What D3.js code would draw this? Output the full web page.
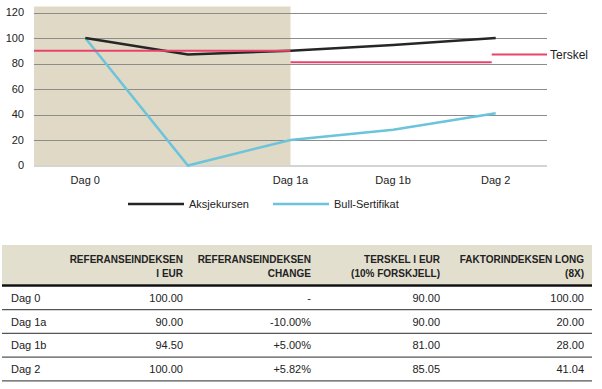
<!DOCTYPE html>
<html>
<head>
<meta charset="utf-8">
<script src="https://cdn.jsdelivr.net/npm/d3@7"></script>
<style>
  body { margin: 0; background: #fff; }
  svg { display: block; font-family: 'Liberation Sans', Arial, sans-serif; }
</style>
</head>
<body>
<div id="chart"></div>
<script>
(function() {
    'use strict';

    // chart data
    const days = ['Dag 0', 'mid', 'Dag 1a', 'Dag 1b', 'Dag 2'];
    const dayLabels = ['Dag 0', '', 'Dag 1a', 'Dag 1b', 'Dag 2'];
    const aksjekursen = [100, 87, 90, 94.5, 100];
    const bullSertifikat = [100, 0, 20, 28, 41];
    const terskelSteps = [
        { from: null, to: 'Dag 1a', value: 90 },
        { from: 'Dag 1a', to: 'Dag 2', value: 81 }
    ];
    const terskelMarker = 87;
    const yTicks = [0, 20, 40, 60, 80, 100, 120];

    // table data
    const tableHeader = [
        ['', ''],
        ['REFERANSEINDEKSEN', 'I EUR'],
        ['REFERANSEINDEKSEN', 'CHANGE'],
        ['TERSKEL I EUR', '(10% FORSKJELL)'],
        ['FAKTORINDEKSEN LONG', '(8X)']
    ];
    const rowNames = ['Dag 0', 'Dag 1a', 'Dag 1b', 'Dag 2'];
    const refEur = ['100.00', '90.00', '94.50', '100.00'];
    const refChange = ['-', '-10.00%', '+5.00%', '+5.82%'];
    const terskelEur = ['90.00', '90.00', '81.00', '85.05'];
    const faktorLong = ['100.00', '20.00', '28.00', '41.04'];

    const svg = d3.select('#chart').append('svg')
        .attr('width', 602)
        .attr('height', 389);

    const left = 34, right = 547, top = 12.5, bottom = 165.5;

    const x = d3.scalePoint().domain(days).range([left, right]).padding(0.5);
    const y = d3.scaleLinear().domain([0, 120]).range([bottom, top]);

    // shaded area up to Dag 1a
    svg.append('rect')
        .attr('x', left)
        .attr('y', 6.5)
        .attr('width', x('Dag 1a') - left)
        .attr('height', bottom - 6.5)
        .attr('fill', '#dfd9c6');

    // grid lines
    svg.append('g').selectAll('line').data(yTicks.filter(d => d > 0)).enter().append('line')
        .attr('x1', left)
        .attr('x2', right)
        .attr('y1', d => Math.round(y(d)) + 0.5)
        .attr('y2', d => Math.round(y(d)) + 0.5)
        .attr('stroke', '#8c8c8c')
        .attr('stroke-width', 1);

    svg.append('line')
        .attr('x1', left).attr('x2', right)
        .attr('y1', y(0) + 0.5).attr('y2', y(0) + 0.5)
        .attr('stroke', '#d4d4d4')
        .attr('stroke-width', 2);

    // y tick labels
    svg.append('g').selectAll('text').data(yTicks).enter().append('text')
        .attr('x', 24)
        .attr('y', d => y(d))
        .attr('dy', '0.35em')
        .attr('text-anchor', 'end')
        .style('font-size', '11px')
        .style('fill', '#222')
        .text(d => d);

    // x labels
    svg.append('g').selectAll('text').data(days).enter().append('text')
        .attr('x', d => x(d))
        .attr('y', 180)
        .attr('dy', '0.35em')
        .attr('text-anchor', 'middle')
        .style('font-size', '11px')
        .style('fill', '#222')
        .text((d, i) => dayLabels[i]);

    // series lines
    const line = d3.line()
        .x((d, i) => x(days[i]))
        .y(d => y(d));

    svg.append('path')
        .datum(bullSertifikat)
        .attr('d', line)
        .attr('fill', 'none')
        .attr('stroke', '#6cc4da')
        .attr('stroke-width', 2.5);

    svg.append('path')
        .datum(aksjekursen)
        .attr('d', line)
        .attr('fill', 'none')
        .attr('stroke', '#262626')
        .attr('stroke-width', 2.5);

    // terskel steps (drawn on top)
    svg.append('g').selectAll('line').data(terskelSteps).enter().append('line')
        .attr('x1', d => d.from ? x(d.from) : left)
        .attr('x2', d => d.to === 'Dag 2' ? x(d.to) - 4 : x(d.to))
        .attr('y1', d => y(d.value))
        .attr('y2', d => y(d.value))
        .attr('stroke', '#e8436c')
        .attr('stroke-width', 2);

    svg.append('line')
        .attr('x1', x('Dag 2') - 4)
        .attr('x2', right)
        .attr('y1', y(terskelMarker))
        .attr('y2', y(terskelMarker))
        .attr('stroke', '#e8436c')
        .attr('stroke-width', 2);

    svg.append('text')
        .attr('x', right + 3)
        .attr('y', y(terskelMarker))
        .attr('dy', '0.35em')
        .style('font-size', '12px')
        .style('fill', '#222')
        .text('Terskel');

    // legend
    const legend = [
        { name: 'Aksjekursen', color: '#262626', x: 128 },
        { name: 'Bull-Sertifikat', color: '#6cc4da', x: 273 }
    ];
    const lg = svg.append('g').selectAll('g').data(legend).enter().append('g')
        .attr('transform', d => `translate(${d.x},204)`);
    lg.append('line')
        .attr('x1', 0).attr('x2', 56)
        .attr('stroke', d => d.color)
        .attr('stroke-width', 2.5);
    lg.append('text')
        .attr('x', 61)
        .attr('dy', '0.35em')
        .style('font-size', '11px')
        .style('fill', '#222')
        .text(d => d.name);

    // table ====================================================
    const colRight = [null, 183, 311, 440, 584];
    const tLeft = 2, tRight = 592;

    svg.append('rect')
        .attr('x', tLeft)
        .attr('y', 245)
        .attr('width', tRight - tLeft)
        .attr('height', 39)
        .attr('fill', '#e3dfcf');

    const head = svg.append('g').selectAll('g').data(tableHeader).enter().append('g');
    head.each(function(d, i) {
        if (i === 0) return;
        d3.select(this).selectAll('text').data(d).enter().append('text')
            .attr('x', colRight[i])
            .attr('y', (t, j) => 263 + j * 13.5)
            .attr('text-anchor', 'end')
            .style('font-size', '10px')
            .style('font-weight', 'bold')
            .style('fill', '#222')
            .text(t => t);
    });

    svg.append('line')
        .attr('x1', tLeft).attr('x2', tRight)
        .attr('y1', 285.5).attr('y2', 285.5)
        .attr('stroke', '#111')
        .attr('stroke-width', 2.5);

    const rowH = 23.7;
    const rows = svg.append('g').selectAll('g').data(rowNames).enter().append('g')
        .attr('transform', (d, i) => `translate(0,${286 + i * rowH})`);

    rows.append('line')
        .attr('x1', tLeft).attr('x2', tRight)
        .attr('y1', rowH).attr('y2', rowH)
        .attr('stroke', '#555')
        .attr('stroke-width', 1.3);

    rows.append('text')
        .attr('x', 11)
        .attr('y', 12)
        .attr('dy', '0.35em')
        .style('font-size', '11px')
        .style('fill', '#222')
        .text(d => d);

    const cols = [refEur, refChange, terskelEur, faktorLong];
    rows.each(function(d, r) {
        d3.select(this).selectAll('text.val').data(cols).enter().append('text')
            .attr('class', 'val')
            .attr('x', (c, k) => colRight[k + 1])
            .attr('y', 12)
            .attr('dy', '0.35em')
            .attr('text-anchor', 'end')
            .style('font-size', '11px')
            .style('fill', '#222')
            .text(c => c[r]);
    });
}());
</script>
</body>
</html>
